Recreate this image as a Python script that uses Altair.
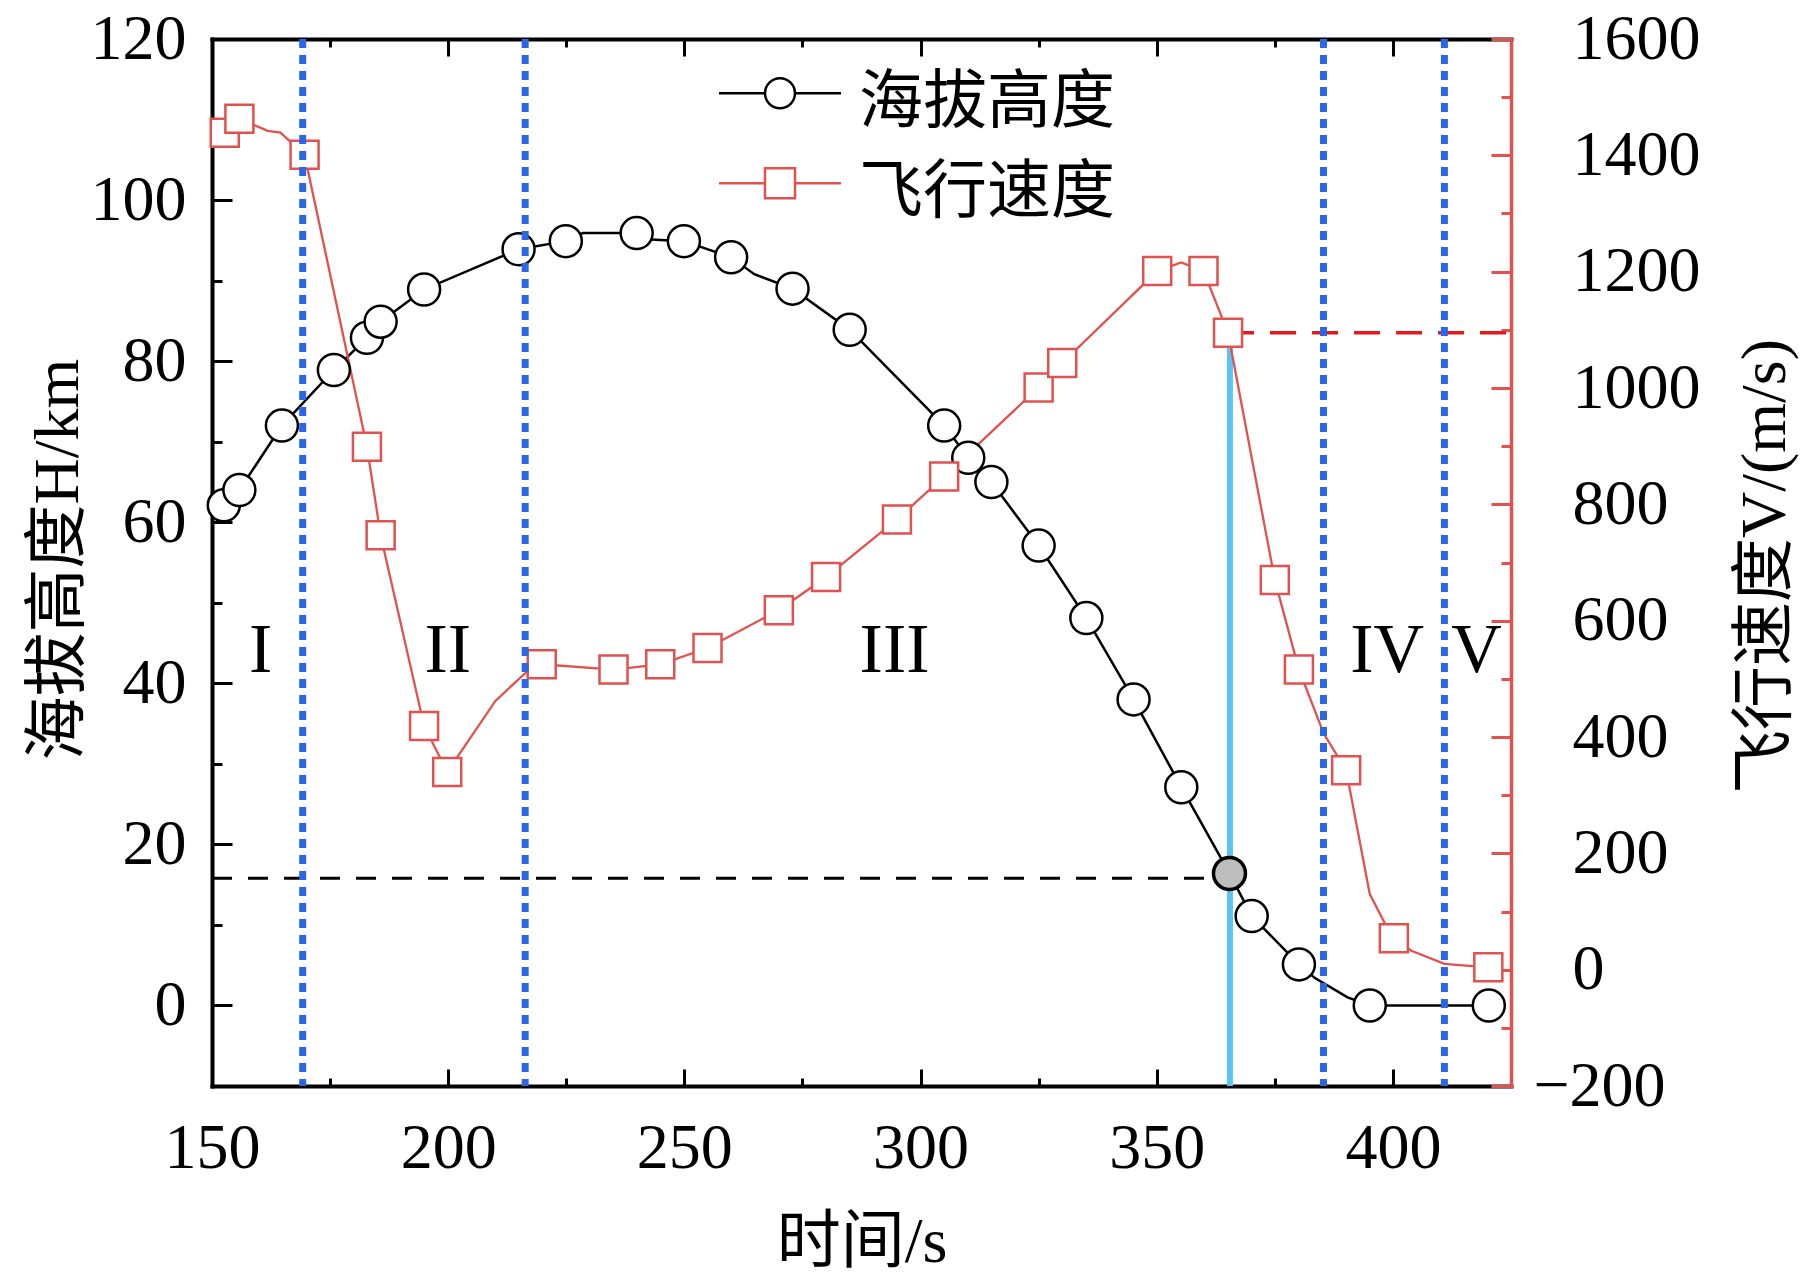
import altair as alt
import pandas as pd

# ---------------- data ----------------
# altitude H (km) markers
h_time = [152.5, 155.8, 164.8, 175.8, 182.8, 185.7, 194.9, 214.9, 224.9, 239.9,
          249.9, 259.9, 272.9, 285.0, 305.0, 310.1, 315.0, 325.0, 335.1, 345.1,
          355.2, 370.1, 380.1, 395.1, 420.3]
h_alt = [62.1, 64.0, 72.0, 78.9, 82.9, 84.9, 88.9, 93.9, 94.9, 95.9,
         94.9, 92.9, 89.0, 83.9, 72.0, 68.0, 65.0, 57.1, 48.1, 38.0,
         27.1, 11.1, 5.1, 0.0, 0.0]
# highlighted altitude point
gray_time = [365.4]
gray_alt = [16.4]
# unmarked bends of the altitude curve
h_bend_time = [228.5, 243.0, 264.8, 383.5, 390.4]
h_bend_alt = [95.9, 95.1, 90.8, 3.4, 1.0]

# speed V (m/s) markers
v_time = [152.7, 155.8, 169.6, 182.8, 185.7, 194.9, 199.8, 219.8, 235.0, 244.9,
          254.9, 270.0, 280.0, 295.0, 305.0, 325.0, 330.0, 350.1, 359.9, 365.1,
          375.0, 380.1, 390.1, 400.2, 420.2]
v_speed = [1439, 1463, 1401, 899, 747, 419, 340, 525, 516, 525,
           553, 618, 675, 774, 848, 1001, 1043, 1201, 1201, 1095,
           670, 516, 343, 54, 4]
# unmarked bends of the speed curve
v_bend_time = [161.8, 164.5, 210.0, 216.2, 355.2, 385.4, 395.1, 398.4, 403.8, 410.9]
v_bend_speed = [1442, 1439, 462, 509, 1216, 405, 130, 78, 33, 10]

# stage boundaries (dotted blue) and reference lines
stage_time = [169.2, 216.3, 385.3, 410.9]
cyan_time = [365.5]
cyan_speed_top = [1095]
ref_alt = [15.8]
ref_speed = [1095]
ref_alt_t = [150.0, 365.4]
ref_speed_t = [365.1, 425.0]

# stage labels
stage_label = ["I", "II", "III", "IV", "V"]
stage_label_t = [160.3, 199.9, 294.5, 398.8, 417.7]
stage_label_h = [44.0, 44.0, 44.0, 44.0, 44.0]

# axes
x_major = [150, 200, 250, 300, 350, 400]
x_minor = [175, 225, 275, 325, 375]
h_major = [0, 20, 40, 60, 80, 100, 120]
h_minor = [10, 30, 50, 70, 90, 110]
v_major = [-200, 0, 200, 400, 600, 800, 1000, 1200, 1400, 1600]
v_major_pos = [v for v in v_major if v >= 0]
v_major_neg = [v for v in v_major if v < 0]
v_minor = [-100, 100, 300, 500, 700, 900, 1100, 1300, 1500]

legend_series = ["海拔高度", "飞行速度"]

# ---------------- styling ----------------
RED = "#e0524f"
DRED = "#e3191b"
BLUE = "#2a66e6"
CYAN = "#5cc4f5"
W, H = 1299, 1047

xs = alt.Scale(domain=[150, 425], nice=False, zero=False)
hs = alt.Scale(domain=[-10, 120], nice=False, zero=False)
vs = alt.Scale(domain=[-200, 1600], nice=False, zero=False)


def tick_axis(orient, values, size, color="black"):
    return alt.Axis(orient=orient, values=values, tickSize=size, tickWidth=3,
                    tickColor=color, ticks=True, domain=False, labels=False,
                    grid=False, title=None, offset=-size)


ax_bottom = alt.Axis(orient="bottom", values=x_major, format="d", ticks=False, tickSize=0,
                     labelPadding=30, labelFlush=False, labelOverlap=False,
                     domain=True, domainColor="black", domainWidth=4, domainCap="square",
                     grid=False, title="时间/s", titleX=W / 2, titleY=156,
                     titleBaseline="middle", titleAlign="center")
ax_left = alt.Axis(orient="left", values=h_major, format="d", ticks=False, tickSize=0,
                   labelPadding=26, labelOverlap=False, domain=True,
                   domainColor="black", domainWidth=4, domainCap="square", grid=False,
                   title="海拔高度H/km", titleAngle=270, titleX=-154, titleY=520,
                   titleBaseline="middle", titleAlign="center")
ax_right = alt.Axis(orient="right", values=v_major_pos, format="d", ticks=False, tickSize=0,
                    labelPadding=61, labelAlign="left", labelOverlap=False,
                    domain=True, domainColor=RED, domainWidth=3.5, domainCap="square",
                    grid=False, title="飞行速度V/(m/s)", titleAngle=270, titleX=254,
                    titleY=527, titleBaseline="middle", titleAlign="center")
# the negative label keeps its minus sign hanging left of the digit column
ax_right_neg = alt.Axis(orient="right", values=v_major_neg, format="d", ticks=False,
                        tickSize=0, labelPadding=22, labelAlign="left", labelOverlap=False,
                        domain=False, grid=False, title=None)
ax_top = alt.Axis(orient="top", ticks=False, labels=False, domain=True,
                  domainColor="black", domainWidth=4, domainCap="square",
                  grid=False, title=None)

# ---------------- tables ----------------
df_h = pd.DataFrame({"t": h_time, "h": h_alt})
df_gray = pd.DataFrame({"t": gray_time, "h": gray_alt})
df_hline = pd.DataFrame({"t": h_time + gray_time + h_bend_time,
                         "h": h_alt + gray_alt + h_bend_alt}).sort_values("t")
df_v = pd.DataFrame({"t": v_time, "v": v_speed})
df_vline = pd.DataFrame({"t": v_time + v_bend_time,
                         "v": v_speed + v_bend_speed}).sort_values("t")
df_stage = pd.DataFrame({"t": stage_time})
df_cyan = pd.DataFrame({"t": cyan_time, "v0": [-200], "v1": cyan_speed_top})
df_refh = pd.DataFrame({"t0": [ref_alt_t[0]], "t1": [ref_alt_t[1]], "h": ref_alt})
df_refv = pd.DataFrame({"t0": [ref_speed_t[0]], "t1": [ref_speed_t[1]], "v": ref_speed})
df_lab = pd.DataFrame({"t": stage_label_t, "h": stage_label_h, "lab": stage_label})
df_leg = pd.DataFrame({"series": legend_series})

# ---------------- layers ----------------
cyan = alt.Chart(df_cyan).mark_rule(color=CYAN, strokeWidth=6).encode(
    x=alt.X("t:Q", scale=xs, axis=ax_bottom),
    y=alt.Y("v0:Q", scale=vs, axis=ax_right),
    y2="v1:Q",
)

ref_h = alt.Chart(df_refh).mark_rule(color="black", strokeWidth=3, strokeDash=[20, 16]).encode(
    x=alt.X("t0:Q", scale=xs, axis=tick_axis("bottom", x_major, 17)),
    x2="t1:Q",
    y=alt.Y("h:Q", scale=hs, axis=ax_left),
)

ref_v = alt.Chart(df_refv).mark_rule(color=DRED, strokeWidth=3.5, strokeDash=[26, 16]).encode(
    x=alt.X("t0:Q", scale=xs, axis=tick_axis("bottom", x_minor, 8)),
    x2="t1:Q",
    y=alt.Y("v:Q", scale=vs, axis=tick_axis("right", v_major, 20, RED)),
)

h_line = alt.Chart(df_hline).mark_line(color="black", strokeWidth=2.5).encode(
    x=alt.X("t:Q", scale=xs, axis=ax_top),
    y=alt.Y("h:Q", scale=hs, axis=tick_axis("left", h_major, 20)),
)

v_line = alt.Chart(df_vline).mark_line(color=RED, strokeWidth=2.3).encode(
    x=alt.X("t:Q", scale=xs, axis=tick_axis("top", x_major, 17)),
    y=alt.Y("v:Q", scale=vs, axis=tick_axis("right", v_minor, 10, RED)),
)

h_pts = alt.Chart(df_h).mark_point(shape="circle", size=1024, fill="white", filled=False,
                                   stroke="black", strokeWidth=2.5, opacity=1).encode(
    x=alt.X("t:Q", scale=xs, axis=tick_axis("top", x_minor, 8)),
    y=alt.Y("h:Q", scale=hs, axis=tick_axis("left", h_minor, 10)),
)

v_pts = alt.Chart(df_v).mark_point(shape="square", size=784, fill="white", filled=False,
                                   stroke=RED, strokeWidth=2.5, opacity=1).encode(
    x=alt.X("t:Q", scale=xs, axis=None),
    y=alt.Y("v:Q", scale=vs, axis=ax_right_neg),
)

gray = alt.Chart(df_gray).mark_point(shape="circle", size=1024, fill="#bdbdbd", filled=False,
                                     stroke="black", strokeWidth=3.5, opacity=1).encode(
    x=alt.X("t:Q", scale=xs, axis=None),
    y=alt.Y("h:Q", scale=hs, axis=None),
)

stages = alt.Chart(df_stage).mark_rule(color=BLUE, strokeWidth=7, strokeDash=[9, 7]).encode(
    x=alt.X("t:Q", scale=xs, axis=None),
)

labels = alt.Chart(df_lab).mark_text(font="Liberation Serif", fontSize=70, color="black",
                                     align="center", baseline="middle").encode(
    x=alt.X("t:Q", scale=xs, axis=None),
    y=alt.Y("h:Q", scale=hs, axis=None),
    text="lab:N",
)

# legend symbols: line + marker, lifted slightly above the label centre
circle_path = "M-4.07,-0.65H-1M1,-0.65H4.07M-1,-0.65A1,1,0,1,1,1,-0.65A1,1,0,1,1,-1,-0.65Z"
square_path = "M-4.07,-0.65H-1M1,-0.65H4.07M-1,-1.65H1V0.35H-1Z"
leg = alt.Legend(orient="none", legendX=536, legendY=32, title=None,
                 labelFont="Noto Sans CJK SC", labelFontSize=64, labelColor="black",
                 labelLimit=0, symbolSize=900, symbolStrokeWidth=2.5, labelOffset=47,
                 rowPadding=26, padding=0)
legend_layer = alt.Chart(df_leg).mark_point(size=0, filled=False, fill="white",
                                            strokeWidth=2.5, opacity=1).encode(
    color=alt.Color("series:N", scale=alt.Scale(domain=legend_series, range=["black", RED]),
                    legend=leg),
    shape=alt.Shape("series:N", scale=alt.Scale(domain=legend_series,
                                                range=[circle_path, square_path]),
                    legend=leg),
)

chart = (
    alt.layer(cyan, ref_h, ref_v, h_line, v_line, h_pts, v_pts, gray, stages, labels,
              legend_layer)
    .resolve_scale(y="independent")
    .resolve_axis(x="independent", y="independent")
    .properties(width=W, height=H, background="white",
                autosize=alt.AutoSizeParams(type="none"),
                padding={"left": 204, "top": 31, "right": 300, "bottom": 191})
    .configure_axis(labelFont="Liberation Serif", labelFontSize=64, labelColor="black",
                    titleFont="Liberation Serif, Noto Sans CJK SC", titleFontSize=64,
                    titleFontWeight="normal", titleColor="black", grid=False)
    .configure_view(stroke=None)
)

chart.save("out.html", embed_options={"renderer": "svg", "actions": False})
